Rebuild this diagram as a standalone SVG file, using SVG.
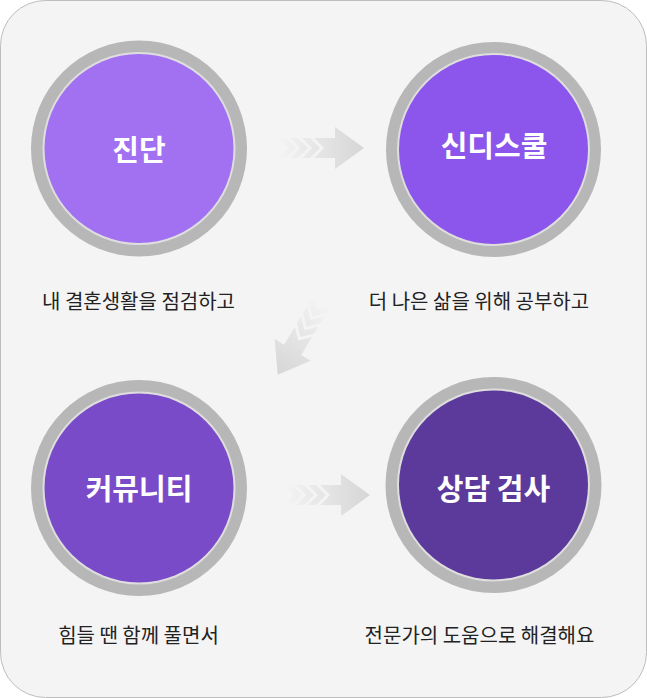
<svg xmlns="http://www.w3.org/2000/svg" width="647" height="698" viewBox="0 0 647 698">
  <defs>
    <linearGradient id="arrowGrad" gradientUnits="userSpaceOnUse" x1="0" y1="0" x2="86" y2="0">
      <stop offset="0" stop-color="#f4f4f4"/>
      <stop offset="0.45" stop-color="#e6e6e6"/>
      <stop offset="1" stop-color="#d6d6d6"/>
    </linearGradient>
    <g id="arrow">
      <polygon points="0,-10 8,-10 18,0 8,10 0,10 10,0"/>
      <polygon points="12,-10 20,-10 30,0 20,10 12,10 22,0"/>
      <polygon points="24,-10 32,-10 42,0 32,10 24,10 34,0"/>
      <polygon points="36,-10 57,-10 57,-21 86,0 57,21 57,10 36,10 46,0"/>
    </g>
  </defs>
  <style>
    .ring { fill: #b7b7b7; }
    .inner { fill: #dedede; }
    .title { font-family: "Noto Sans CJK KR", "Noto Sans", sans-serif; font-weight: bold; font-size: 29px; fill: #ffffff; text-anchor: middle; }
    .label { font-family: "Noto Sans CJK KR", "Noto Sans", sans-serif; font-size: 20px; fill: #222222; text-anchor: middle; }
    .arrow { fill: url(#arrowGrad); }
  </style>

  <rect x="0.5" y="0.5" width="646" height="697" rx="45" ry="45" fill="#f4f4f4" stroke="#bdbdbd" stroke-width="1"/>

  <g id="connectors" class="arrow">
    <use href="#arrow" transform="translate(278,148)"/>
    <use href="#arrow" transform="translate(322,301) rotate(121)"/>
    <use href="#arrow" transform="translate(284,495)"/>
  </g>

  <g id="node-diagnosis">
    <circle class="ring" cx="139" cy="148.5" r="108"/>
    <circle class="inner" cx="139" cy="148.5" r="96.5"/>
    <circle cx="139" cy="148.5" r="94.5" fill="#a171f2"/>
    <text class="title" x="139" y="160.5">진단</text>
  </g>

  <g id="node-sindischool">
    <circle class="ring" cx="493.5" cy="149.5" r="107.5"/>
    <circle class="inner" cx="493.5" cy="149.5" r="96.5"/>
    <circle cx="493.5" cy="149.5" r="94.5" fill="#8c55eb"/>
    <text class="title" x="494" y="157">신디스쿨</text>
  </g>

  <g id="node-community">
    <circle class="ring" cx="139" cy="488" r="108"/>
    <circle class="inner" cx="139" cy="488" r="96.5"/>
    <circle cx="139" cy="488" r="94.5" fill="#7a4bc9"/>
    <text class="title" x="139" y="500">커뮤니티</text>
  </g>

  <g id="node-counseling">
    <circle class="ring" cx="493.5" cy="485" r="108"/>
    <circle class="inner" cx="493.5" cy="485" r="96.5"/>
    <circle cx="493.5" cy="485" r="94.5" fill="#5c3a9c"/>
    <text class="title" x="493.5" y="500">상담 검사</text>
  </g>

  <g id="labels">
    <text class="label" x="138.5" y="308.5">내 결혼생활을 점검하고</text>
    <text class="label" x="479" y="308.5">더 나은 삶을 위해 공부하고</text>
    <text class="label" x="138.5" y="643">힘들 땐 함께 풀면서</text>
    <text class="label" x="479.5" y="643">전문가의 도움으로 해결해요</text>
  </g>
</svg>
